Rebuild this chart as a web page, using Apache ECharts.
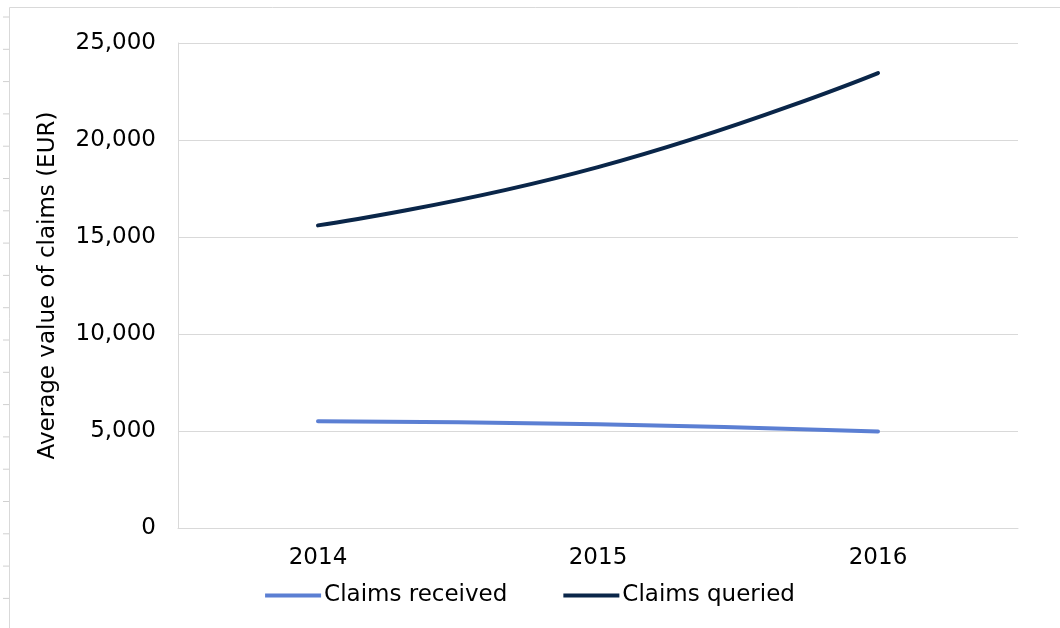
<!DOCTYPE html>
<html>
<head>
<meta charset="utf-8">
<script src="https://cdn.jsdelivr.net/npm/echarts@6/dist/echarts.min.js"></script>
<style>
  html, body { margin: 0; padding: 0; background: #fff; }
  #chart { width: 1060px; height: 628px; }
</style>
</head>
<body>
<div id="chart"></div>
<script>
// data
const years = ['2014', '2015', '2016'];
const claimsReceived = [5500, 5350, 4980];
const claimsQueried = [15600, 18600, 23450];
const yTicks = [0, 5000, 10000, 15000, 20000, 25000];

const font = 'Verdana, "DejaVu Sans", sans-serif';
const fs = 23;

const chart = echarts.init(document.getElementById('chart'));

// little marks on the outer left edge, like the source picture
const edgeTicks = [];
for (let y = 17; y < 628; y += 32.3) {
  edgeTicks.push({
    type: 'line',
    shape: { x1: 3, y1: y, x2: 9, y2: y },
    style: { stroke: '#d0d0d0', lineWidth: 1 }
  });
}

const option = {
  animation: false,
  backgroundColor: '#fff',
  graphic: [
    {
      type: 'rect',
      shape: { x: 9.5, y: 7.5, width: 1100, height: 700 },
      style: { fill: 'none', stroke: '#d9d9d9', lineWidth: 1 }
    }
  ].concat(edgeTicks),
  grid: { left: 178, right: 42, top: 43, bottom: 100 },
  legend: {
    top: 579,
    left: 'center',
    itemWidth: 56,
    itemHeight: 4,
    itemGap: 56,
    textStyle: { fontFamily: font, fontSize: fs, color: '#000', padding: [0, 0, 0, -2] },
    data: [
      { name: 'Claims received', icon: 'rect' },
      { name: 'Claims queried', icon: 'rect' }
    ]
  },
  xAxis: {
    type: 'category',
    data: years,
    boundaryGap: true,
    axisLine: { lineStyle: { color: '#d9d9d9', width: 1 } },
    axisTick: { show: false },
    axisLabel: { fontFamily: font, fontSize: fs, color: '#000', margin: 19 }
  },
  yAxis: {
    type: 'value',
    min: yTicks[0],
    max: yTicks[yTicks.length - 1],
    interval: 5000,
    name: 'Average value of claims (EUR)',
    nameLocation: 'middle',
    nameGap: 118,
    nameTextStyle: { fontFamily: font, fontSize: fs, color: '#000' },
    axisLine: { show: true, lineStyle: { color: '#d9d9d9', width: 1 } },
    axisTick: { show: false },
    splitLine: { lineStyle: { color: '#d9d9d9', width: 1 } },
    axisLabel: {
      fontFamily: font, fontSize: fs, color: '#000', margin: 22,
      formatter: v => v.toLocaleString('en-US')
    }
  },
  series: [
    {
      name: 'Claims received',
      type: 'line',
      data: claimsReceived,
      smooth: true,
      symbol: 'none',
      color: '#5b7fd3',
      lineStyle: { width: 4, color: '#5b7fd3', cap: 'round' }
    },
    {
      name: 'Claims queried',
      type: 'line',
      data: claimsQueried,
      smooth: true,
      symbol: 'none',
      color: '#0a2649',
      lineStyle: { width: 4, color: '#0a2649', cap: 'round' }
    }
  ]
};

chart.setOption(option);
</script>
</body>
</html>
